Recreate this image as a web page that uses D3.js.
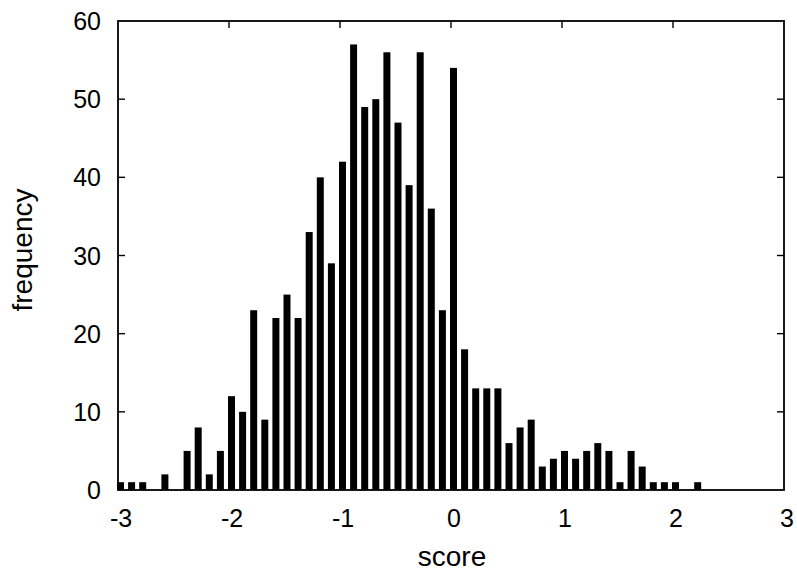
<!DOCTYPE html>
<html>
<head>
<meta charset="utf-8">
<script src="https://cdn.jsdelivr.net/npm/d3@7"></script>
<style>
  html, body { margin: 0; padding: 0; background: #fff; }
</style>
</head>
<body>
<div id="chart"></div>
<script>
// Left edge of each 0.1 wide score bin.
const bins = [
  -3.0, -2.9, -2.8, -2.7, -2.6, -2.5, -2.4, -2.3, -2.2, -2.1,
  -2.0, -1.9, -1.8, -1.7, -1.6, -1.5, -1.4, -1.3, -1.2, -1.1,
  -1.0, -0.9, -0.8, -0.7, -0.6, -0.5, -0.4, -0.3, -0.2, -0.1,
  0.0, 0.1, 0.2, 0.3, 0.4, 0.5, 0.6, 0.7, 0.8, 0.9,
  1.0, 1.1, 1.2, 1.3, 1.4, 1.5, 1.6, 1.7, 1.8, 1.9,
  2.0, 2.1, 2.2
];
const counts = [
  1, 1, 1, 0, 2, 0, 5, 8, 2, 5,
  12, 10, 23, 9, 22, 25, 22, 33, 40, 29,
  42, 57, 49, 50, 56, 47, 39, 56, 36, 23,
  54, 18, 13, 13, 13, 6, 8, 9, 3, 4,
  5, 4, 5, 6, 5, 1, 5, 3, 1, 1,
  1, 0, 1
];
const xTicks = [-3, -2, -1, 0, 1, 2, 3];
const yTicks = [0, 10, 20, 30, 40, 50, 60];

const width = 797, height = 571;
const plot = { left: 118, right: 784, top: 21, bottom: 490 };
const font = 'Liberation Sans, Arial, Helvetica, sans-serif';

const svg = d3.select('#chart')
  .append('svg')
    .attr('width', width)
    .attr('height', height);

const x = d3.scaleLinear().domain([-3, 3]).range([plot.left, plot.right]);
const y = d3.scaleLinear().domain([0, 60]).range([plot.bottom, plot.top]);

// bars, a bit narrower than the bin
const barW = x(0.063) - x(0);
svg.append('g')
  .selectAll('rect')
  .data(bins.map((b, i) => ({ bin: b, n: counts[i] })).filter(d => d.n > 0))
  .enter()
  .append('rect')
    .attr('x', d => x(d.bin) - 1)
    .attr('y', d => y(d.n))
    .attr('width', barW)
    .attr('height', d => y(0) - y(d.n))
    .attr('fill', '#000');

// frame
svg.append('rect')
  .attr('x', plot.left)
  .attr('y', plot.top)
  .attr('width', plot.right - plot.left)
  .attr('height', plot.bottom - plot.top)
  .attr('fill', 'none')
  .attr('stroke', '#000')
  .attr('stroke-width', 1.8);

// inward ticks on all four sides (gnuplot style)
const tickLen = 7;
const axG = svg.append('g').attr('stroke', '#000').attr('stroke-width', 1.4);
xTicks.slice(1, -1).forEach(t => {
  axG.append('line').attr('x1', x(t)).attr('x2', x(t))
    .attr('y1', plot.top).attr('y2', plot.top + tickLen);
  axG.append('line').attr('x1', x(t)).attr('x2', x(t))
    .attr('y1', plot.bottom).attr('y2', plot.bottom - tickLen);
});
yTicks.slice(1, -1).forEach(t => {
  axG.append('line').attr('x1', plot.left).attr('x2', plot.left + tickLen)
    .attr('y1', y(t)).attr('y2', y(t));
  axG.append('line').attr('x1', plot.right).attr('x2', plot.right - tickLen)
    .attr('y1', y(t)).attr('y2', y(t));
});

// tick labels
svg.append('g')
  .selectAll('text')
  .data(xTicks)
  .enter()
  .append('text')
    .attr('x', d => x(d) + 3)
    .attr('y', 527)
    .attr('text-anchor', 'middle')
    .attr('font-family', font)
    .attr('font-size', '25px')
    .text(d => d);

svg.append('g')
  .selectAll('text')
  .data(yTicks)
  .enter()
  .append('text')
    .attr('x', 101)
    .attr('y', d => y(d) + 9)
    .attr('text-anchor', 'end')
    .attr('font-family', font)
    .attr('font-size', '25px')
    .text(d => d);

// axis titles
svg.append('text')
  .attr('x', 452)
  .attr('y', 566)
  .attr('text-anchor', 'middle')
  .attr('font-family', font)
  .attr('font-size', '28px')
  .text('score');

svg.append('text')
  .attr('transform', 'translate(32, 250) rotate(-90)')
  .attr('text-anchor', 'middle')
  .attr('font-family', font)
  .attr('font-size', '28px')
  .text('frequency');
</script>
</body>
</html>
